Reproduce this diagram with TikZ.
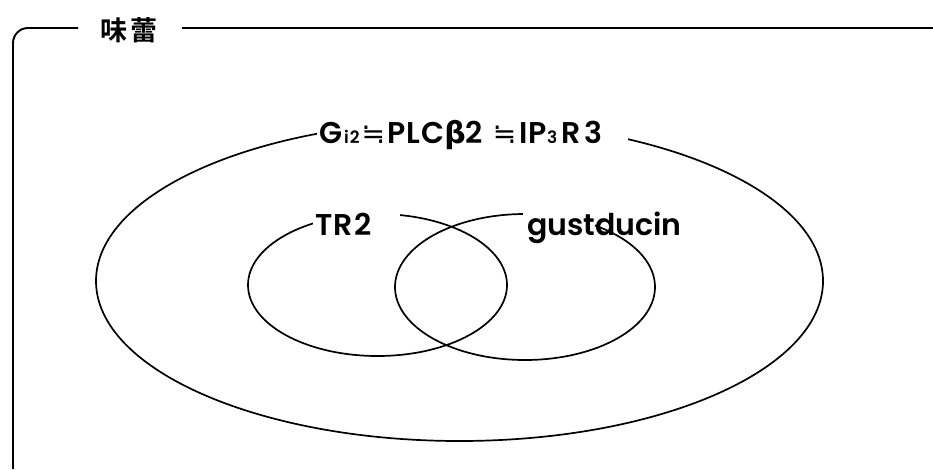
\documentclass[tikz,border=0pt]{standalone}
\usepackage{fontspec}
\setmainfont{Poppins}[UprightFont=* SemiBold]
\newfontfamily\cjk{Noto Sans CJK JP}
\newfontfamily\cjkb{Noto Sans CJK JP}[UprightFont=* Bold]
\newfontfamily\symb{DejaVu Sans}
\tikzset{
  outline/.style={line width=1.7pt, black},
  frameline/.style={line width=1.9pt, black},
  mask/.style={fill=white, draw=none},
  lbl/.style={anchor=base west, inner sep=0pt, font=\fontsize{30}{32}\selectfont},
}
\newcommand{\smalltxt}[1]{{\fontsize{17}{17}\selectfont #1}}
\newcommand{\nearlyeq}{{\symb\fontsize{28}{28}\selectfont ≒}}
\begin{document}
\begin{tikzpicture}[x=1pt, y=-1pt]
  \useasboundingbox (0,0) rectangle (933,469);

  % outer frame with its title
  \node[inner sep=0pt, font=\cjkb\fontsize{27}{27}\selectfont] (title) at (129,30) {味\kern4pt 蕾};
  \coordinate (fa) at (13,469);
  \coordinate (fb) at (13,28);
  \coordinate (fc) at (78,28);
  \coordinate (fd) at (182,28);
  \coordinate (fe) at (933,28);
  \draw[frameline, rounded corners=15pt] (fa) -- (fb) -- (fc);
  \draw[frameline] (fd) -- (fe);

  % sets
  \draw[outline] (459.5,281) ellipse [x radius=363.5, y radius=160];
  \draw[outline] (377.5,285) ellipse [x radius=129.5, y radius=71];
  \draw[outline] (525,287) ellipse [x radius=130, y radius=73];

  % gaps in the outlines behind the labels
  \fill[mask] (317,112) rectangle (628,152);
  \fill[mask] (313,204) rectangle (400,242);
  \fill[mask] (523,204) rectangle (595,226);

  % labels
  \node[lbl] (outer) at (319,143)
    {G\kern2pt\smalltxt{i\kern1pt 2}\kern2pt\nearlyeq\kern2pt P\kern1pt L\kern1pt C{\symb\bfseries β}2\kern10pt\nearlyeq\kern3pt I\kern1pt P\smalltxt{3}\kern4pt R\kern4pt 3};
  \node[lbl] (tr) at (315,235) {T\kern1pt R\kern2pt 2};
  \node[lbl] (gust) at (527,235) {gustducin};
\end{tikzpicture}
\end{document}
